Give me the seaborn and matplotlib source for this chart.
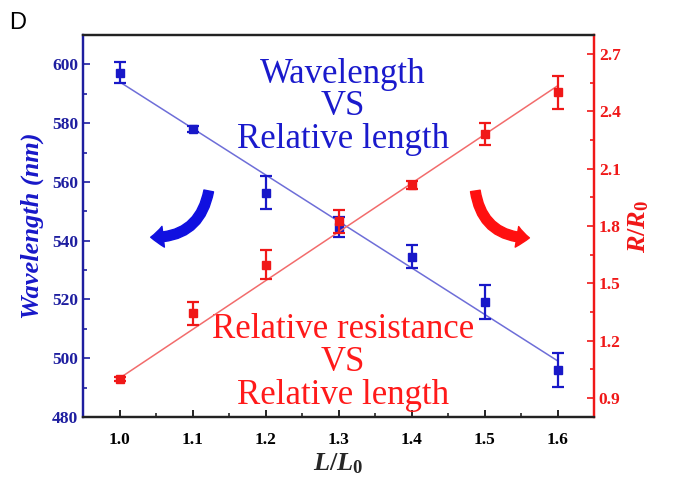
import numpy as np
import matplotlib
matplotlib.use("Agg")
import matplotlib.pyplot as plt
from matplotlib.patches import FancyArrowPatch
from matplotlib.ticker import MultipleLocator
import seaborn as sns

# data
ratio = [1.0, 1.1, 1.2, 1.3, 1.4, 1.5, 1.6]
wavelength = [597.2, 578.1, 556.4, 544.6, 534.6, 519.2, 495.9]
wavelength_err = [3.7, 1.0, 5.7, 3.5, 4.0, 5.8, 5.8]
resistance = [1.0, 1.344, 1.597, 1.824, 2.016, 2.281, 2.50]
resistance_err = [0.01, 0.06, 0.075, 0.06, 0.02, 0.057, 0.085]

BLUE = '#1818c8'
BLUE_LINE = '#6e6ed8'
BLUE_TICK = '#1e1ea0'
RED = '#f01818'
RED_LINE = '#f26c6c'

sns.set_style('ticks')
plt.rcParams['font.family'] = ['Liberation Serif', 'DejaVu Serif']
plt.rcParams['mathtext.fontset'] = 'custom'
plt.rcParams['mathtext.it'] = 'Liberation Serif:italic:bold'
plt.rcParams['mathtext.rm'] = 'Liberation Serif:bold'


def weighted_fit(x, y, err):
    # linear fit weighted by the error bars (instrumental weighting)
    coef = np.polyfit(x, y, 1, w=1.0 / np.asarray(err))
    return np.polyval(coef, x)


fig = plt.figure(figsize=(6.76, 4.79), dpi=100)
ax = fig.add_axes([0.1228, 0.1294, 0.7559, 0.7975])
ax2 = ax.twinx()

# blue: wavelength
sns.lineplot(x=ratio, y=weighted_fit(ratio, wavelength, wavelength_err), ax=ax,
             color=BLUE_LINE, lw=1.1)
ax.errorbar(ratio, wavelength, yerr=wavelength_err, fmt='s', color=BLUE,
            ms=6, capsize=4, elinewidth=1.6, capthick=1.6)

# red: relative resistance
sns.lineplot(x=ratio, y=weighted_fit(ratio, resistance, resistance_err), ax=ax2,
             color=RED_LINE, lw=1.1)
ax2.errorbar(ratio, resistance, yerr=resistance_err, fmt='s', color=RED,
             ms=6, capsize=4, elinewidth=1.6, capthick=1.6)

ax.set_xlim(0.95, 1.65)
ax.set_ylim(480, 610)
ax2.set_ylim(0.8, 2.8)

ax.xaxis.set_major_locator(MultipleLocator(0.1))
ax.xaxis.set_minor_locator(MultipleLocator(0.05))
ax.yaxis.set_major_locator(MultipleLocator(20))
ax.yaxis.set_minor_locator(MultipleLocator(10))
ax2.set_yticks(np.arange(0.9, 2.71, 0.3))
ax2.yaxis.set_minor_locator(MultipleLocator(0.15))

ax.tick_params(axis='both', which='both', direction='in', top=False)
ax.tick_params(axis='x', which='major', length=5, width=1.2, labelsize=12.5,
               pad=11, colors='black')
ax.tick_params(axis='x', which='minor', length=3, width=1.2)
ax.tick_params(axis='y', which='major', length=5, width=1.2, labelsize=12.5,
               colors=BLUE_TICK)
ax.tick_params(axis='y', which='minor', length=3, width=1.2, colors=BLUE_TICK)
ax2.tick_params(axis='y', which='major', direction='in', length=5, width=1.2,
                labelsize=12.5, colors=RED)
ax2.tick_params(axis='y', which='minor', direction='in', length=3, width=1.2,
                colors=RED)
ax.set_xticks(ratio)
ax.set_xticklabels(['%.1f' % t for t in ratio])
ax.set_xlim(0.95, 1.65)
for lab in ax.get_xticklabels() + ax.get_yticklabels() + ax2.get_yticklabels():
    lab.set_fontweight('bold')

for a in (ax, ax2):
    a.spines['top'].set_color('#222222')
    a.spines['bottom'].set_color('#222222')
    a.spines['left'].set_color(BLUE_TICK)
    a.spines['right'].set_color(RED)
    for s in a.spines.values():
        s.set_linewidth(1.6)

ax.set_xlabel(r'$\mathit{L/L_0}$', fontsize=19, labelpad=2)
ax.set_ylabel('Wavelength (nm)', fontsize=19, fontstyle='italic',
              fontweight='bold', color=BLUE, labelpad=6)
ax2.set_ylabel(r'$\mathit{R/R_0}$', fontsize=19, color=RED, labelpad=4)

ax.text(0.509, 0.94, 'Wavelength\nVS\nRelative length', transform=ax.transAxes,
        ha='center', va='top', fontsize=25, color='#1a1acc', linespacing=0.98)
ax.text(0.509, 0.272, 'Relative resistance\nVS\nRelative length',
        transform=ax.transAxes, ha='center', va='top', fontsize=25,
        color='#ff1a1a', linespacing=0.99, zorder=5)

# curved arrows
arr_b = FancyArrowPatch((0.247, 0.599), (0.127, 0.471), transform=ax.transAxes,
                        connectionstyle='arc3,rad=-0.45',
                        arrowstyle='simple,tail_width=7,head_width=15,head_length=9',
                        color='#1010e0', mutation_scale=1, zorder=6)
arr_r = FancyArrowPatch((0.767, 0.599), (0.879, 0.469), transform=ax.transAxes,
                        connectionstyle='arc3,rad=0.45',
                        arrowstyle='simple,tail_width=7,head_width=15,head_length=9',
                        color='#ff1010', mutation_scale=1, zorder=6)
ax.add_patch(arr_b)
ax.add_patch(arr_r)

fig.text(0.014, 0.94, 'D', fontsize=17, family='Liberation Sans', color='black')

fig.savefig('out.png', dpi=100)
plt.close(fig)
